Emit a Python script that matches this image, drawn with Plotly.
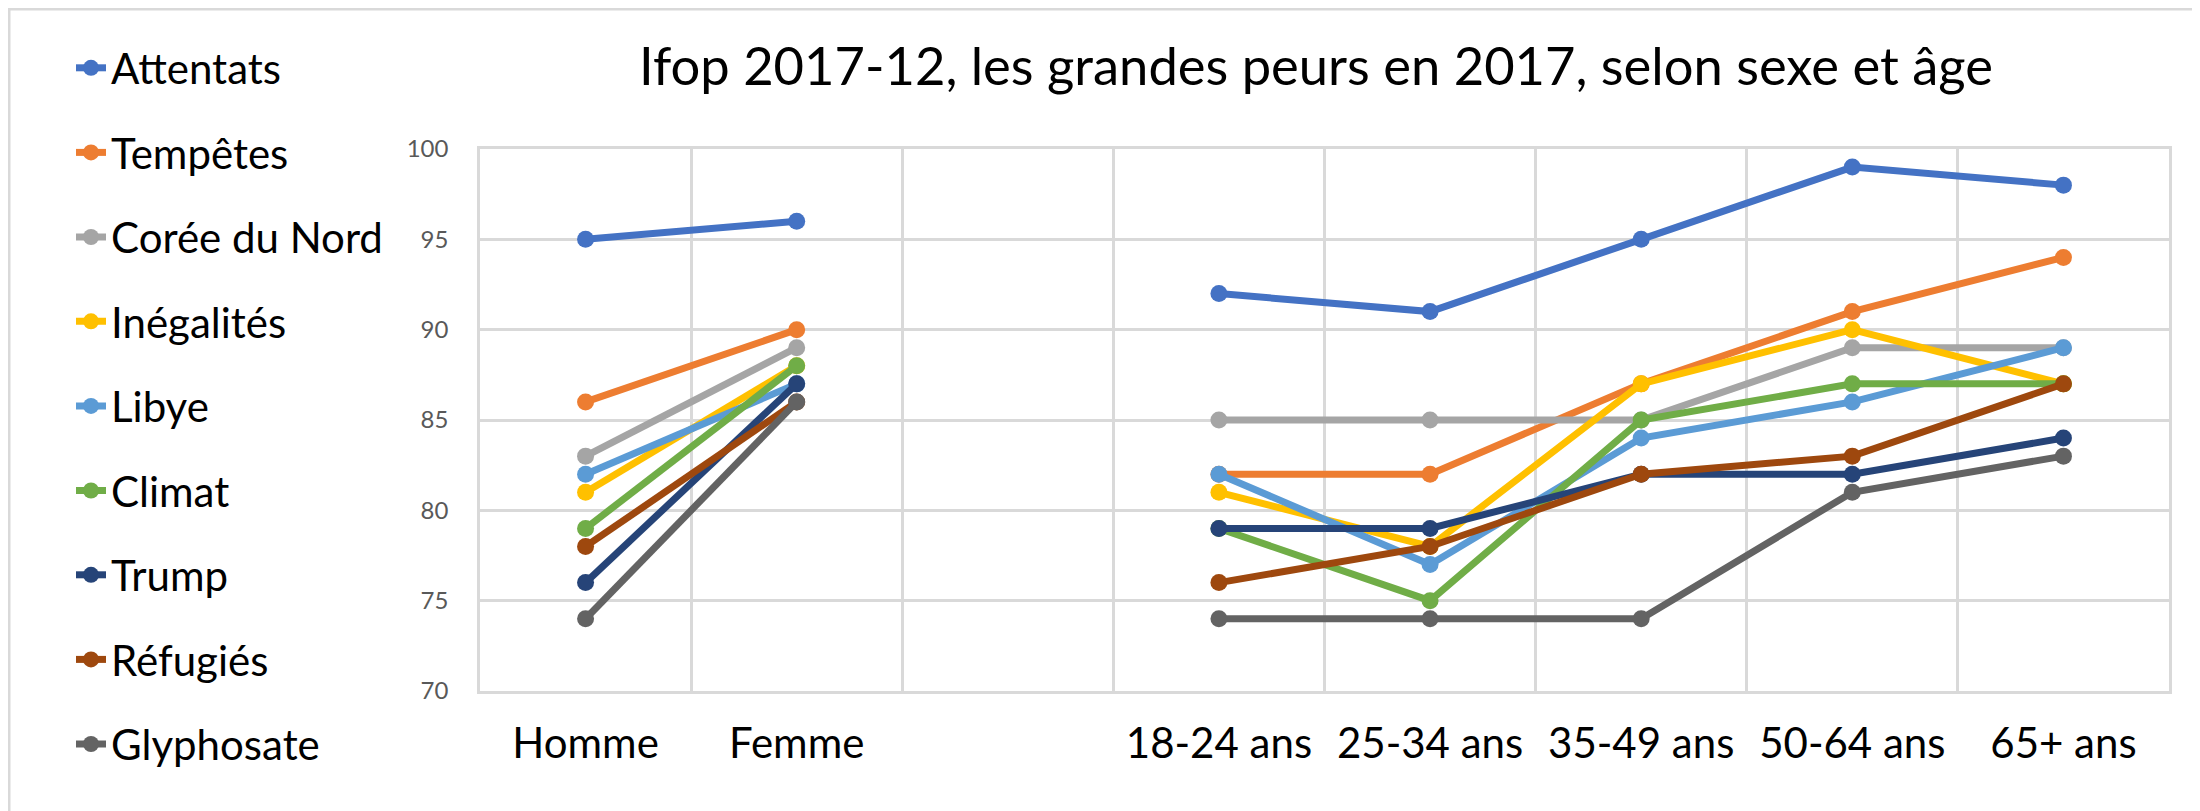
import plotly.graph_objects as go

categories = ["Homme", "Femme", " ", "18-24 ans", "25-34 ans", "35-49 ans", "50-64 ans", "65+ ans"]

series_names = ["Attentats", "Tempêtes", "Corée du Nord", "Inégalités", "Libye",
                "Climat", "Trump", "Réfugiés", "Glyphosate"]

attentats = [95, 96, None, 92, 91, 95, 99, 98]
tempetes = [86, 90, None, 82, 82, 87, 91, 94]
coree = [83, 89, None, 85, 85, 85, 89, 89]
inegalites = [81, 88, None, 81, 78, 87, 90, 87]
libye = [82, 87, None, 82, 77, 84, 86, 89]
climat = [79, 88, None, 79, 75, 85, 87, 87]
trump = [76, 87, None, 79, 79, 82, 82, 84]
refugies = [78, 86, None, 76, 78, 82, 83, 87]
glyphosate = [74, 86, None, 74, 74, 74, 81, 83]

series_values = [attentats, tempetes, coree, inegalites, libye, climat, trump, refugies, glyphosate]

colors = ["#4472C4", "#ED7D31", "#A5A5A5", "#FFC000", "#5B9BD5",
          "#70AD47", "#264478", "#9E480E", "#636363"]

y_ticks = [70, 75, 80, 85, 90, 95, 100]

FONT = "Lato"
W, H = 2200, 811
L, R, T, B = 472, 39, 141, 128
pw = W - L - R
ph = H - T - B
legend_ids = ["legend", "legend2", "legend3"]

fig = go.Figure()
for i, (name, vals, col) in enumerate(zip(series_names, series_values, colors)):
    fig.add_trace(go.Scatter(
        x=categories, y=vals, name=name, mode="lines+markers",
        line=dict(color=col, width=7),
        marker=dict(color=col, size=17),
        connectgaps=False, legendgroup=name,
        legend=legend_ids[i // 3],
    ))

grid = "#D9D9D9"
legend_common = dict(x=(63 - L) / pw, xanchor="left", yref="container", yanchor="top",
                     font=dict(family=FONT, size=42, color="#000000"),
                     tracegroupgap=27, bgcolor="rgba(0,0,0,0)", itemclick=False)
fig.update_layout(
    width=W, height=H,
    margin=dict(l=L, r=R, t=T, b=B, autoexpand=False),
    paper_bgcolor="white", plot_bgcolor="white",
    font=dict(family=FONT, color="#000000"),
    title=dict(text="Ifop 2017-12, les grandes peurs en 2017, selon sexe et âge",
               font=dict(family=FONT, size=52.5, color="#000000"),
               x=1308 / W, xref="container", xanchor="center",
               y=1 - 59 / H, yref="container", yanchor="middle"),
    showlegend=True,
    legend=dict(y=1 - 26 / H, **legend_common),
    legend2=dict(y=1 - (26 + 3 * 84.5) / H, **legend_common),
    legend3=dict(y=1 - (26 + 6 * 84.5) / H, **legend_common),
    xaxis=dict(type="category", categoryorder="array", categoryarray=categories,
               range=[-0.5, len(categories) - 0.5], tickson="boundaries",
               showgrid=True, gridcolor=grid, gridwidth=2.5,
               showline=True, linecolor=grid, linewidth=2.5, mirror=True,
               ticks="", ticklabelstandoff=14,
               tickfont=dict(family=FONT, size=42, color="#000000"),
               zeroline=False, fixedrange=True),
    yaxis=dict(range=[70, 100], tickvals=y_ticks, ticktext=[str(v) for v in y_ticks],
               showgrid=True, gridcolor=grid, gridwidth=2.5,
               showline=True, linecolor=grid, linewidth=2.5, mirror=True,
               ticks="outside", ticklen=24, tickcolor="rgba(0,0,0,0)",
               tickfont=dict(family=FONT, size=24, color="#595959"),
               zeroline=False, fixedrange=True),
    shapes=[dict(type="rect", xref="paper", yref="paper",
                 x0=(1 - L) / pw, x1=(W - L - 1) / pw,
                 y0=-(B - 1) / ph, y1=1 + (T - 1) / ph,
                 line=dict(color="#D9D9D9", width=3), layer="below")],
)

fig.write_html("out.html")
